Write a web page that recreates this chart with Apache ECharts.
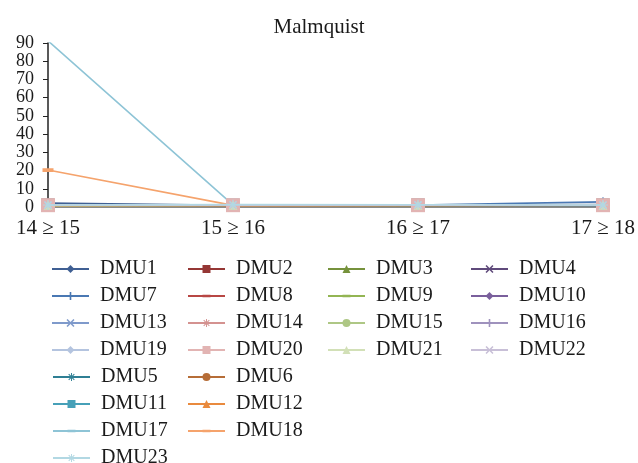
<!DOCTYPE html>
<html>
<head>
<meta charset="utf-8">
<script src="https://cdn.jsdelivr.net/npm/echarts@6/dist/echarts.min.js"></script>
<style>
  html, body { margin: 0; padding: 0; background: #fff; }
  #chart { width: 638px; height: 463px; }
</style>
</head>
<body>
<div id="chart"></div>
<script>
// Period pairs on the x axis
const periods = ['14 \u2265 15', '15 \u2265 16', '16 \u2265 17', '17 \u2265 18'];
const yTicks = [0, 10, 20, 30, 40, 50, 60, 70, 80, 90];

// Malmquist index per DMU
const DMU1  = [2.1, 1.0, 1.1, 1.3];
const DMU2  = [1.0, 0.9, 1.0, 1.0];
const DMU3  = [0.9, 1.0, 0.9, 1.0];
const DMU4  = [1.0, 1.0, 1.0, 1.0];
const DMU5  = [1.1, 1.0, 1.0, 0.9];
const DMU6  = [0.8, 1.0, 1.0, 1.0];
const DMU7  = [1.2, 1.0, 1.1, 2.8];
const DMU8  = [1.0, 1.0, 1.0, 1.0];
const DMU9  = [0.9, 0.9, 1.0, 1.0];
const DMU10 = [1.0, 1.1, 1.0, 1.0];
const DMU11 = [1.0, 1.0, 1.0, 1.0];
const DMU12 = [0.7, 1.0, 0.9, 1.0];
const DMU13 = [1.0, 1.0, 1.0, 1.1];
const DMU14 = [1.0, 0.9, 1.0, 1.0];
const DMU15 = [0.9, 1.0, 1.0, 1.0];
const DMU16 = [1.0, 1.0, 1.0, 1.0];
const DMU17 = [91.2, 1.2, 1.1, 1.0];
const DMU18 = [20.3, 0.9, 1.0, 1.0];
const DMU19 = [1.0, 1.1, 1.0, 1.0];
const DMU20 = [1.0, 1.0, 1.0, 1.0];
const DMU21 = [0.9, 1.0, 1.0, 1.0];
const DMU22 = [1.0, 1.0, 1.0, 1.0];
const DMU23 = [1.1, 1.3, 1.2, 1.1];

const values = [DMU1, DMU2, DMU3, DMU4, DMU5, DMU6, DMU7, DMU8, DMU9, DMU10, DMU11, DMU12,
                DMU13, DMU14, DMU15, DMU16, DMU17, DMU18, DMU19, DMU20, DMU21, DMU22, DMU23];
const names = values.map((_, i) => 'DMU' + (i + 1));

// Marker shapes (all drawn in a square 10x10 box)
const PLUS = 'path://M4,0H6V4H10V6H6V10H4V6H0V4H4Z';
const CROSS = 'path://M1.4,0L5,3.6L8.6,0L10,1.4L6.4,5L10,8.6L8.6,10L5,6.4L1.4,10L0,8.6L3.6,5L0,1.4Z';
const STAR = 'path://M4.4,0H5.6V3.55L8.1,1.05L8.95,1.9L6.45,4.4H10V5.6H6.45L8.95,8.1L8.1,8.95L5.6,6.45V10H4.4V6.45L1.9,8.95L1.05,8.1L3.55,5.6H0V4.4H3.55L1.05,1.9L1.9,1.05L4.4,3.55Z';
// short bar centred in the box; the two empty sub-paths only fix the box height
const DASH = 'path://M5,0L5.01,0Z M0,3.3H10V6.7H0Z M5,10L5.01,10Z';

const style = {
  DMU1:  ['#3f5f93', 'diamond', 9],
  DMU2:  ['#953735', 'rect', 13],
  DMU3:  ['#76923c', 'triangle', 9],
  DMU4:  ['#5f4a7b', CROSS, 8],
  DMU5:  ['#2f7f94', STAR, 9],
  DMU6:  ['#b66d37', 'circle', 9],
  DMU7:  ['#4a78b3', PLUS, 9],
  DMU8:  ['#b84744', DASH, 8],
  DMU9:  ['#93b553', DASH, 8],
  DMU10: ['#7a5f9c', 'diamond', 9],
  DMU11: ['#46a0b8', 'rect', 13],
  DMU12: ['#e98a3e', 'triangle', 9],
  DMU13: ['#7f9acb', CROSS, 8],
  DMU14: ['#d49290', STAR, 9],
  DMU15: ['#aec785', 'circle', 9],
  DMU16: ['#9f92bd', PLUS, 9],
  DMU17: ['#8ec4d6', DASH, 8],
  DMU18: ['#f5a36c', DASH, 11],
  DMU19: ['#b4c4df', 'diamond', 9],
  DMU20: ['#e2b4b3', 'rect', 14],
  DMU21: ['#d2e0b7', 'triangle', 9],
  DMU22: ['#c8bfd7', CROSS, 8],
  DMU23: ['#b2d8e3', STAR, 10]
};

// Legend blocks: four columns on top, two below
const legendCols = [
  { left: 46,  top: 254, data: ['DMU1', 'DMU7', 'DMU13', 'DMU19'] },
  { left: 182, top: 254, data: ['DMU2', 'DMU8', 'DMU14', 'DMU20'] },
  { left: 322, top: 254, data: ['DMU3', 'DMU9', 'DMU15', 'DMU21'] },
  { left: 465, top: 254, data: ['DMU4', 'DMU10', 'DMU16', 'DMU22'] },
  { left: 47,  top: 362, data: ['DMU5', 'DMU11', 'DMU17', 'DMU23'] },
  { left: 182, top: 362, data: ['DMU6', 'DMU12', 'DMU18'] }
];

const serif = '"Liberation Serif", "DejaVu Serif", serif';

const chart = echarts.init(document.getElementById('chart'), null, { renderer: 'canvas' });

const series = names.map((n, i) => ({
  name: n,
  type: 'line',
  data: values[i],
  symbol: style[n][1],
  symbolSize: style[n][2],
  showSymbol: true,
  lineStyle: { width: 1.6, color: style[n][0] },
  itemStyle: { color: style[n][0], borderWidth: 0 },
  emphasis: { disabled: true },
  z: 2 + i
}));

chart.setOption({
  animation: false,
  backgroundColor: '#ffffff',
  title: {
    text: 'Malmquist',
    left: 'center',
    top: 12,
    textStyle: { fontFamily: serif, fontSize: 21, fontWeight: 'normal', color: '#1a1a1a' }
  },
  legend: legendCols.map(c => ({
    orient: 'vertical',
    left: c.left,
    top: c.top,
    height: 140,
    itemWidth: 37,
    itemHeight: 10,
    itemGap: 7,
    data: c.data,
    textStyle: { fontFamily: serif, fontSize: 20, color: '#1a1a1a', lineHeight: 20, padding: [0, 0, 0, 6] }
  })),
  grid: { left: 48, right: 32, top: 43, bottom: 256 },
  xAxis: {
    type: 'category',
    data: periods,
    boundaryGap: false,
    axisLine: { show: true, lineStyle: { color: '#8a8a8a', width: 2 } },
    axisTick: { show: false },
    axisLabel: { fontFamily: serif, fontSize: 21, color: '#1a1a1a', margin: 11 },
    splitLine: { show: false }
  },
  yAxis: {
    type: 'value',
    min: yTicks[0],
    max: yTicks[yTicks.length - 1],
    interval: yTicks[1] - yTicks[0],
    axisLine: { show: true, lineStyle: { color: '#222', width: 1.5 } },
    axisTick: { show: true, length: 5, lineStyle: { color: '#222' } },
    axisLabel: { fontFamily: serif, fontSize: 18, color: '#1a1a1a', margin: 14, lineHeight: 15,
                 showMinLabel: true, showMaxLabel: true, hideOverlap: false },
    splitLine: { show: false }
  },
  series: series
});
</script>
</body>
</html>
